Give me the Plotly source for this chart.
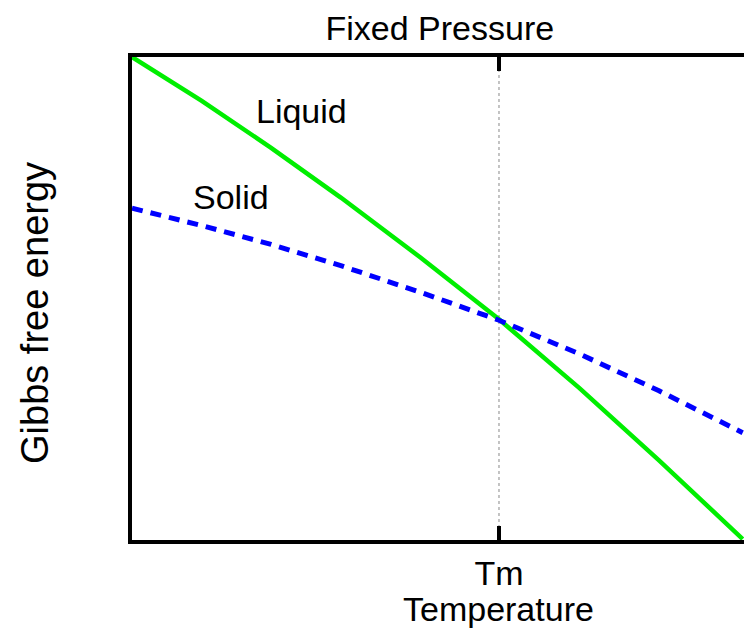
import plotly.graph_objects as go

# temperature in units of Tm (melting point at 1.0)
temperature = [0.0, 0.190, 0.379, 0.569, 0.786, 1.0, 1.220, 1.436, 1.664]
liquid_g = [1.0, 0.909, 0.812, 0.709, 0.585, 0.457, 0.314, 0.165, 0.002]
solid_g = [0.687, 0.651, 0.612, 0.568, 0.513, 0.455, 0.385, 0.309, 0.222]
tm = 1.0
tick_vals = [tm]
tick_text = ["Tm"]

FONT = "Liberation Sans, Arial, sans-serif"

fig = go.Figure()
fig.add_trace(go.Scatter(x=temperature, y=liquid_g, mode="lines", name="Liquid",
                         line=dict(color="#00ee00", width=4.5)))
fig.add_trace(go.Scatter(x=temperature, y=solid_g, mode="lines", name="Solid",
                         line=dict(color="#0000ff", width=5, dash="11px,8px")))

fig.add_shape(type="line", x0=tm, x1=tm, y0=0, y1=1, xref="x", yref="paper",
              line=dict(color="#888888", width=1, dash="dot"), layer="below")

fig.add_annotation(x=0.461, y=0.888, text="Liquid", showarrow=False,
                   font=dict(size=34, color="black", family=FONT))
fig.add_annotation(x=0.271, y=0.710, text="Solid", showarrow=False,
                   font=dict(size=34, color="black", family=FONT))
fig.add_annotation(x=-0.1585, y=0.47, xref="paper", yref="paper", text="Gibbs free energy",
                   textangle=-90, showarrow=False, xanchor="center", yanchor="middle",
                   font=dict(size=38, color="black", family=FONT))
fig.add_annotation(x=tm, y=-0.142, xref="x", yref="paper", text="Temperature",
                   showarrow=False, xanchor="center", yanchor="middle",
                   font=dict(size=34, color="black", family=FONT))

fig.update_xaxes(range=[0, 1.6676], tickvals=tick_vals, ticktext=tick_text,
                 ticks="inside", ticklen=14, tickwidth=4, tickcolor="black",
                 showline=True, linewidth=4, linecolor="black", mirror="ticks",
                 showgrid=False, zeroline=False,
                 tickfont=dict(size=34, color="black", family=FONT))
fig.update_yaxes(range=[0, 1], showticklabels=False, ticks="",
                 showline=True, linewidth=4, linecolor="black", mirror=False,
                 showgrid=False, zeroline=False)

fig.update_layout(
    width=744, height=628,
    margin=dict(l=132, r=0, t=57, b=88),
    paper_bgcolor="white", plot_bgcolor="white",
    showlegend=False,
    title=dict(text="Fixed Pressure", xref="paper", x=0.503, xanchor="center",
               y=0.955, yanchor="middle",
               font=dict(size=34, color="black", family=FONT)),
)

# drop the default body margin so the figure fills the window exactly
fig.write_html("out.html", config={"displayModeBar": False},
               post_script="document.body.style.margin='0';")
